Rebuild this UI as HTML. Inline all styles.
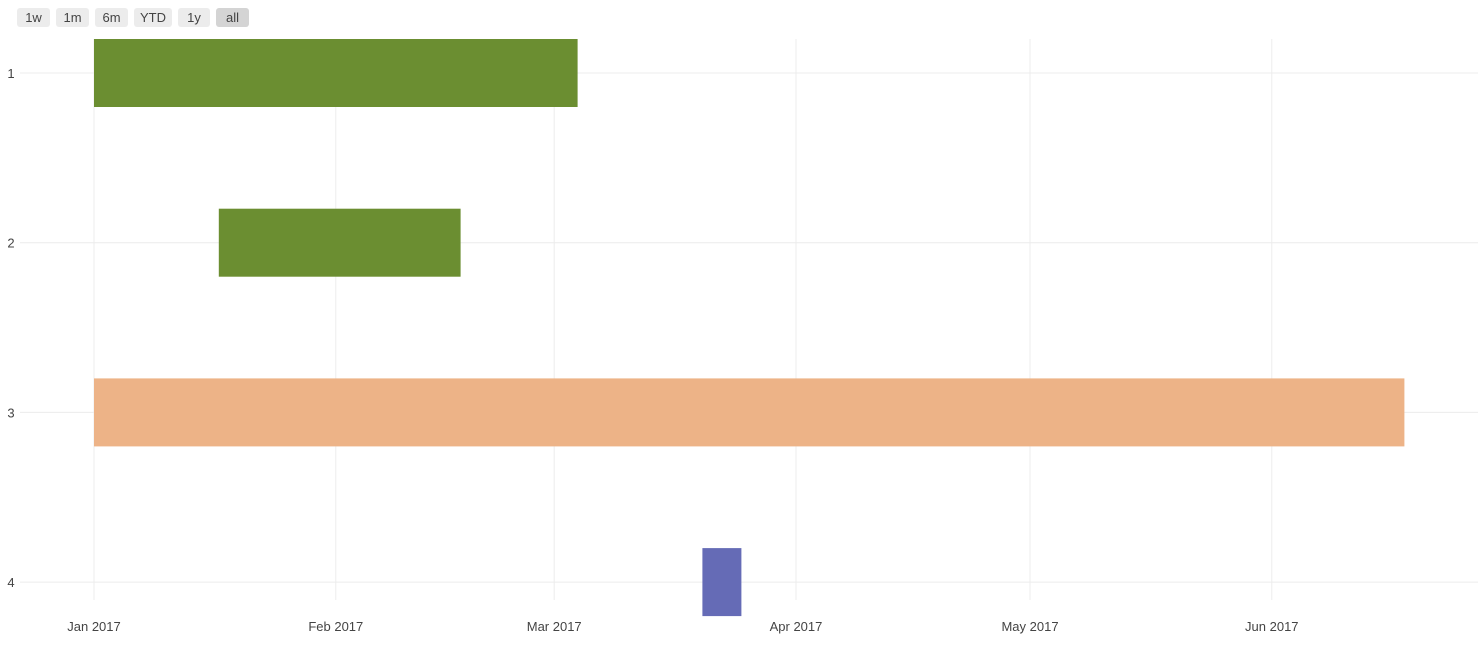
<!DOCTYPE html>
<html><head><meta charset="utf-8"><style>
body{margin:0;background:#fff;width:1482px;height:650px;overflow:hidden;font-family:"Liberation Sans","DejaVu Sans",sans-serif}
.btn{position:absolute;top:8px;height:19px;background:#ececec;border-radius:3px;font-size:13px;color:#444;text-align:center;line-height:19px}
</style></head><body>
<div>
<div class="btn" style="left:17px;width:33px">1w</div>
<div class="btn" style="left:56px;width:33px">1m</div>
<div class="btn" style="left:95px;width:33px">6m</div>
<div class="btn" style="left:134px;width:38px">YTD</div>
<div class="btn" style="left:178px;width:32px">1y</div>
<div class="btn" style="left:216px;width:33px;background:#d4d4d4">all</div>
</div>
<svg id="chart" width="1482" height="650" style="position:absolute;left:0;top:0;pointer-events:none"></svg>
<script>
const tasks=[1,2,3,4];
const starts=["2017-01-01","2017-01-17","2017-01-01","2017-03-20"];
const ends=["2017-03-04","2017-02-17","2017-06-18","2017-03-25"];
const colors=["#6b8e31","#6b8e31","#edb387","#656bb6"];
const xTicks=["2017-01-01","2017-02-01","2017-03-01","2017-04-01","2017-05-01","2017-06-01"];
const xTickLabels=["Jan 2017","Feb 2017","Mar 2017","Apr 2017","May 2017","Jun 2017"];
const yTicks=[1,2,3,4];
const svg=document.getElementById('chart');
const NS='http://www.w3.org/2000/svg';
const t0=Date.UTC(2017,0,1),DAY=86400000;
function d(s){const p=s.split('-');return Date.UTC(+p[0],+p[1]-1,+p[2]);}
function x(s){return 94+(d(s)-t0)/DAY*7.8;}
function y(v){return 73+(v-1)*169.7;}
function mk(tag,attrs){const e=document.createElementNS(NS,tag);for(const k in attrs)e.setAttribute(k,attrs[k]);svg.appendChild(e);return e;}
xTicks.forEach((t,i)=>{
 const l=mk('line',{x1:x(t),x2:x(t),y1:39,y2:600,stroke:'#ececec','stroke-width':1});
 
 
 const tx=mk('text',{x:x(t),y:631,'text-anchor':'middle','font-size':13,fill:'#444'});
 tx.textContent=xTickLabels[i];
 
 
});
yTicks.forEach(v=>{
 const l=mk('line',{x1:20,x2:1478,y1:y(v),y2:y(v),stroke:'#ececec','stroke-width':1});
 
 
 const tx=mk('text',{x:11,y:y(v)+5,'text-anchor':'middle','font-size':13,fill:'#444'});
 tx.textContent=v;
 
 
});
tasks.forEach((t,i)=>{
 const x0=x(starts[i]),x1=x(ends[i]);
 const r=mk('rect',{x:x0,y:y(t)-34,width:x1-x0,height:68,fill:colors[i]});
 
 
});
</script>
</body></html>
